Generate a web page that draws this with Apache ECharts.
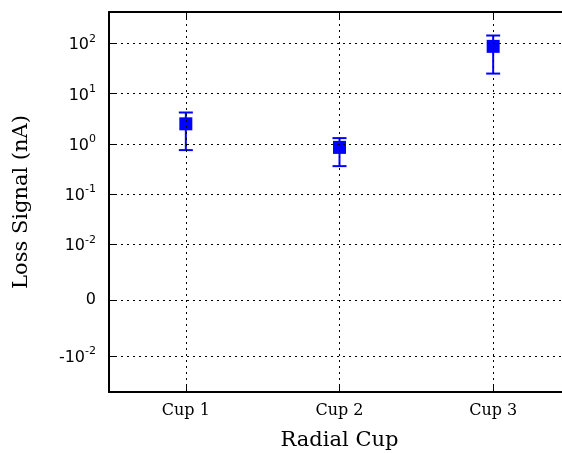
<!DOCTYPE html>
<html>
<head>
<meta charset="utf-8">
<script src="https://cdn.jsdelivr.net/npm/echarts@6/dist/echarts.min.js"></script>
<style>
html,body{margin:0;padding:0;background:#fff;overflow:hidden;}
#main{width:580px;height:453px;}
</style>
</head>
<body>
<div id="main"></div>
<script>
// data
var cups = ["Cup 1", "Cup 2", "Cup 3"];
var cupPos = [1, 2, 3];
var lossVal = [2.5, 0.85, 87];
var lossLow = [0.75, 0.36, 25];
var lossHigh = [4.2, 1.3, 143];
var yTickVals = [-0.01, 0, 0.01, 0.1, 1, 10, 100];
var yTickText = ["-10^-2", "0", "10^-2", "10^-1", "10^0", "10^1", "10^2"];
var yLim = [-0.052, 420];
var xLim = [0.5, 3.5];

// symlog scale (linthresh 0.01, like matplotlib)
var linthresh = 0.01, linscale = 1 / (1 - 0.1);
function symlog(v) {
	var a = Math.abs(v);
	if (a <= linthresh) return v / linthresh * linscale;
	return (v < 0 ? -1 : 1) * (linscale + Math.log10(a / linthresh));
}
var yTicks = yTickVals.map(symlog);

function yLabel(v) {
	var best = 0;
	for (var i = 0; i < yTicks.length; i++) {
		if (Math.abs(yTicks[i] - v) < Math.abs(yTicks[best] - v)) best = i;
	}
	var parts = yTickText[best].split("^");
	if (parts.length < 2) return "{b|" + parts[0] + "}";
	return "{b|" + parts[0] + "}{s|" + parts[1] + "}";
}

var points = [], bars = [];
for (var i = 0; i < cups.length; i++) {
	points.push([cupPos[i], symlog(lossVal[i])]);
	bars.push([cupPos[i], symlog(lossLow[i]), symlog(lossHigh[i])]);
}

var dotted = { color: "#000", width: 1, type: [2, 4] };
var spine = { show: true, onZero: false, lineStyle: { color: "#000", width: 2 } };

// the plot runs past the right edge of the window, as in the reference
var option = {
	animation: false,
	grid: { left: 109, top: 12, right: 10, bottom: 61, outerBoundsMode: "none", containLabel: false, show: false },
	xAxis: [{
		type: "value", min: xLim[0], max: xLim[1], z: 3,
		axisLine: spine,
		axisTick: { show: true, inside: true, length: 7, customValues: cupPos, lineStyle: { color: "#000", width: 1 } },
		axisLabel: { customValues: cupPos, margin: 11, color: "#000", fontFamily: "DejaVu Serif", fontSize: 16,
			formatter: function (v) { return cups[Math.round(v) - 1]; } },
		splitLine: { show: true, lineStyle: dotted },
		name: "Radial Cup", nameLocation: "middle", nameGap: 38,
		nameTextStyle: { color: "#000", fontFamily: "DejaVu Serif", fontSize: 21 }
	}, {
		type: "value", position: "top", min: xLim[0], max: xLim[1], z: 3,
		axisLine: spine,
		axisTick: { show: true, inside: true, length: 7, customValues: cupPos, lineStyle: { color: "#000", width: 1 } },
		axisLabel: { show: false },
		splitLine: { show: false }
	}],
	yAxis: {
		type: "value", min: symlog(yLim[0]), max: symlog(yLim[1]), z: 3,
		axisLine: spine,
		axisTick: { show: true, inside: true, length: 8, customValues: yTicks, lineStyle: { color: "#000", width: 1 } },
		axisLabel: { customValues: yTicks, margin: 13, formatter: yLabel,
			rich: {
				b: { fontFamily: "DejaVu Sans", fontSize: 16, color: "#000", verticalAlign: "bottom" },
				s: { fontFamily: "DejaVu Sans", fontSize: 11, color: "#000", verticalAlign: "bottom", padding: [0, 0, 9, 0] }
			} },
		splitLine: { show: true, lineStyle: dotted },
		name: "Loss Signal (nA)", nameLocation: "middle", nameGap: 77,
		nameTextStyle: { color: "#000", fontFamily: "DejaVu Serif", fontSize: 21 }
	},
	series: [{
		type: "custom", z: 2,
		data: bars,
		renderItem: function (params, api) {
			var lo = api.coord([api.value(0), api.value(1)]);
			var hi = api.coord([api.value(0), api.value(2)]);
			var w = 7;
			var st = { stroke: "#0000ff", lineWidth: 2 };
			return { type: "group", children: [
				{ type: "line", shape: { x1: lo[0], y1: lo[1], x2: hi[0], y2: hi[1] }, style: st },
				{ type: "line", shape: { x1: lo[0] - w, y1: lo[1], x2: lo[0] + w, y2: lo[1] }, style: st },
				{ type: "line", shape: { x1: hi[0] - w, y1: hi[1], x2: hi[0] + w, y2: hi[1] }, style: st }
			] };
		}
	}, {
		type: "scatter", z: 2,
		data: points,
		symbol: "rect", symbolSize: 13,
		itemStyle: { color: "#0000ff", opacity: 1 }
	}]
};

var myChart = echarts.init(document.getElementById("main"), null, { renderer: "canvas" });
myChart.setOption(option);
</script>
</body>
</html>
